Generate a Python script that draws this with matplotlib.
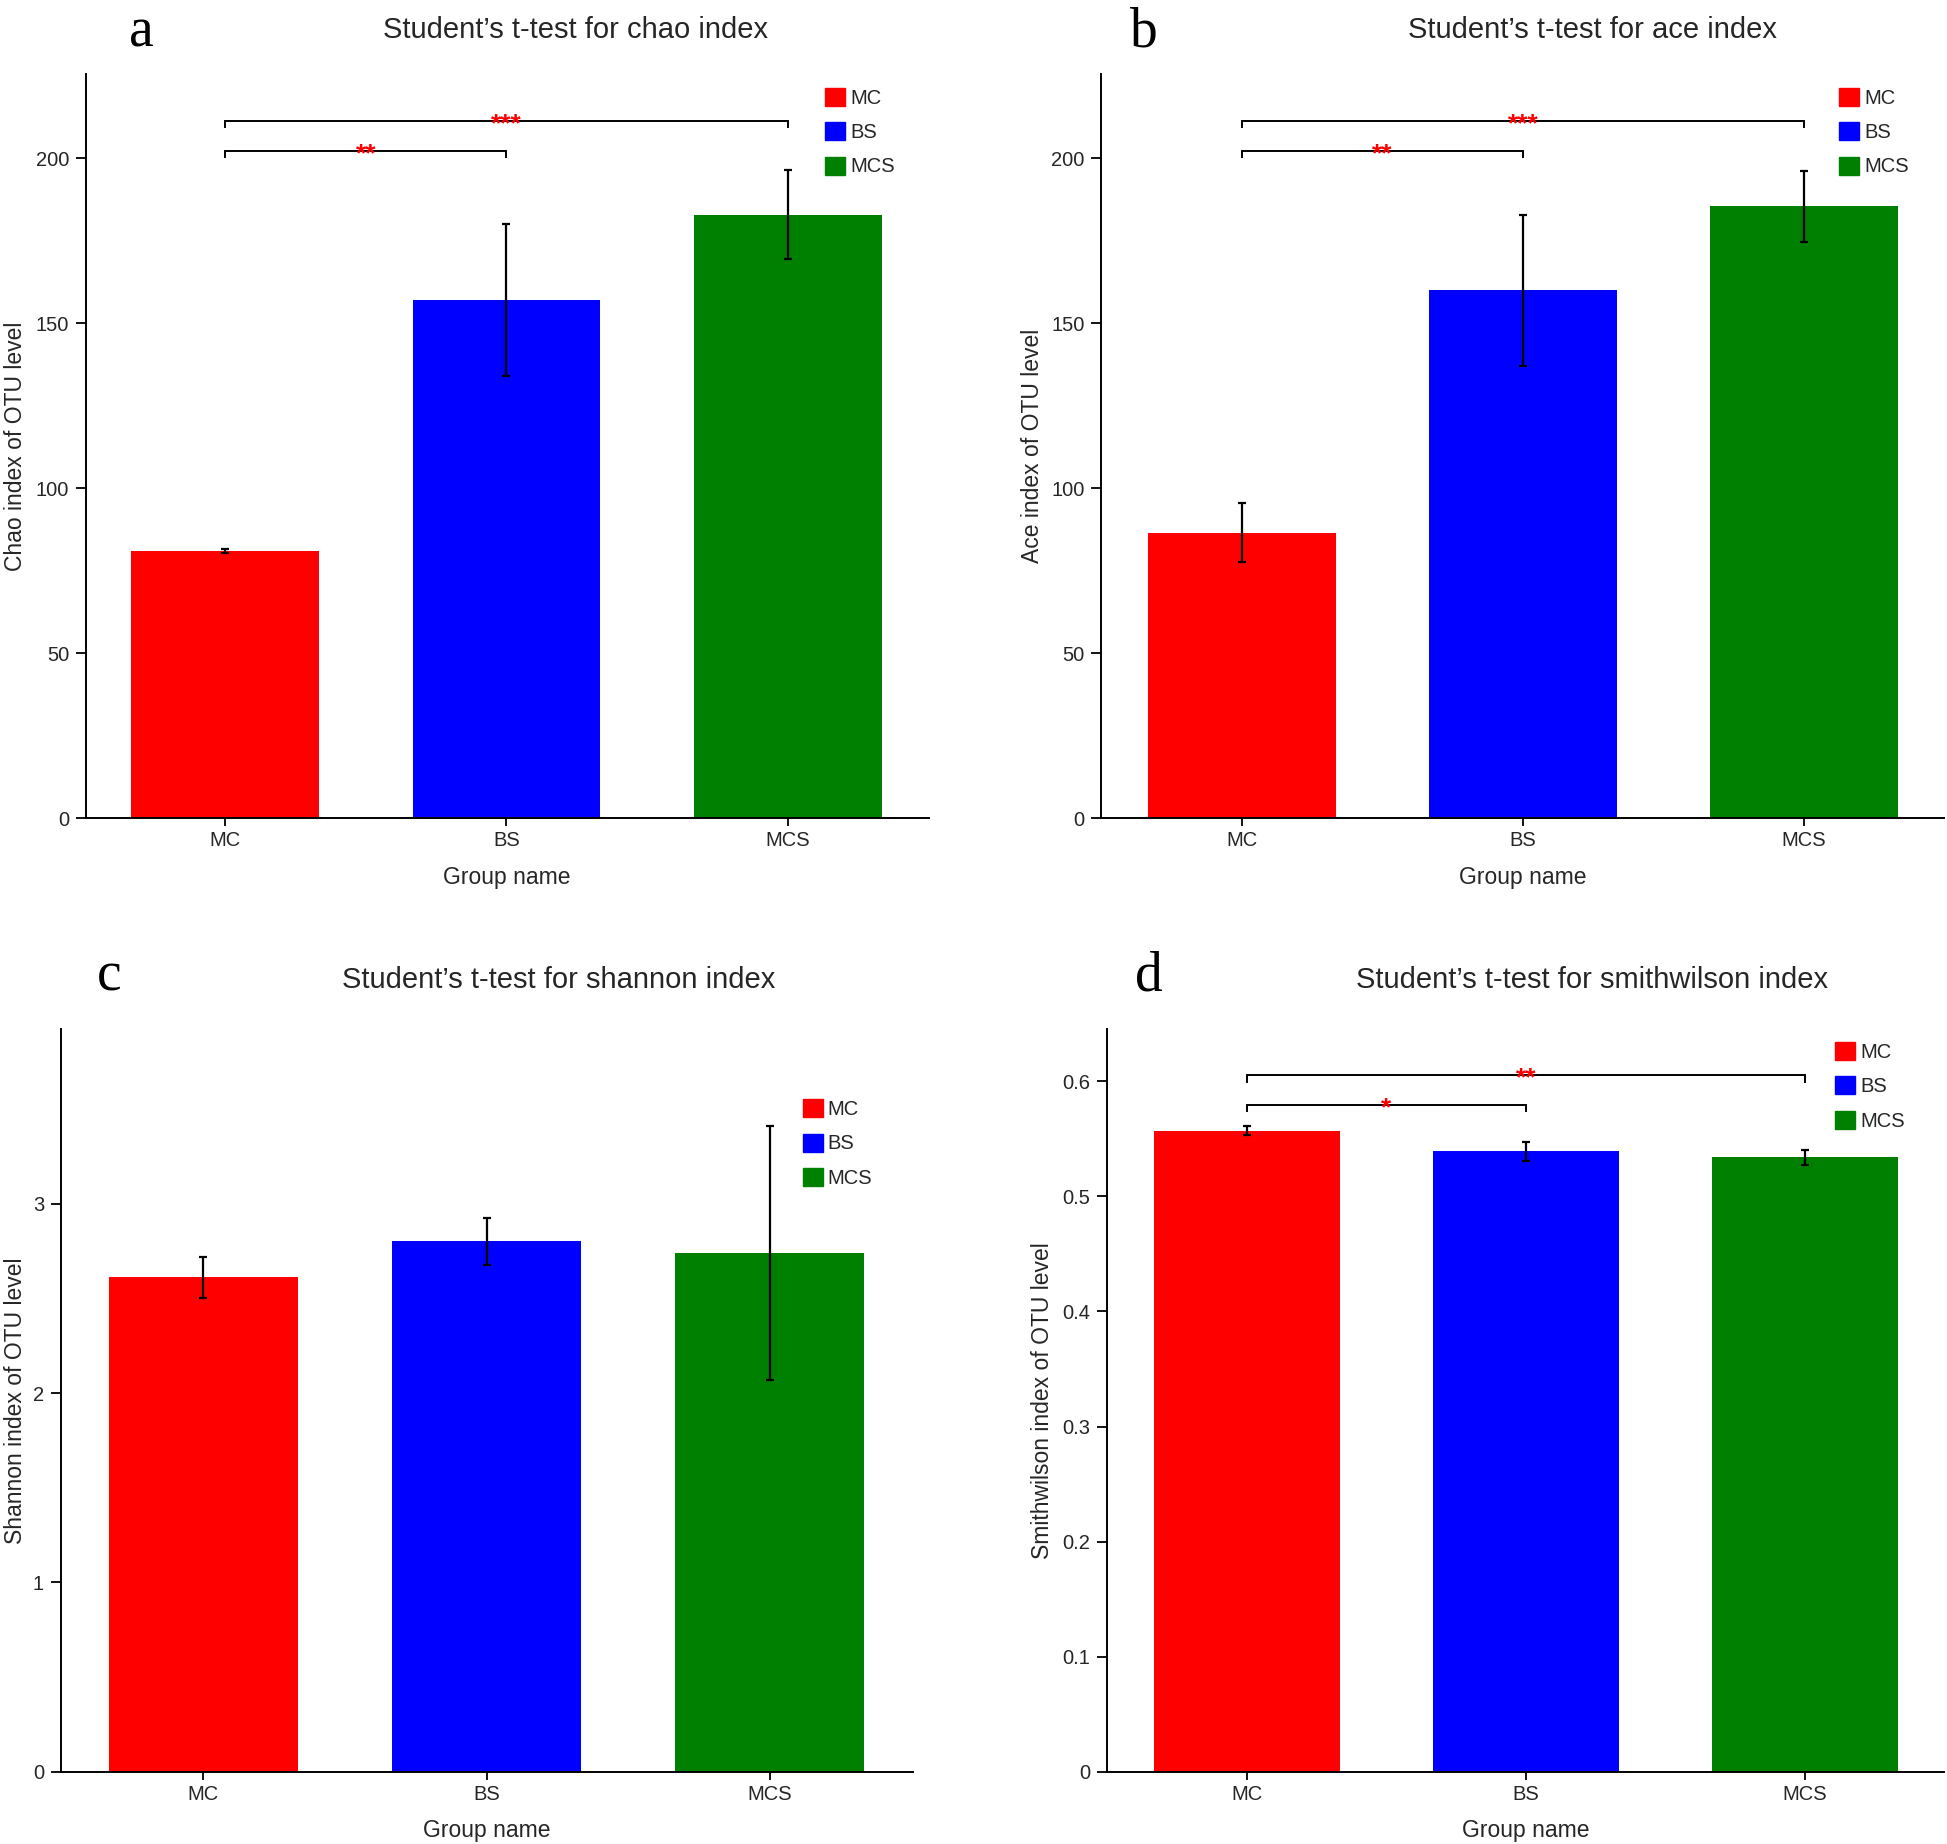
import matplotlib

matplotlib.use("Agg")
import matplotlib.pyplot as plt
from matplotlib.patches import Patch
from matplotlib.ticker import FuncFormatter

plt.rcParams["font.family"] = ["Liberation Sans", "DejaVu Sans"]

groups = ["MC", "BS", "MCS"]
colors = ["#ff0000", "#0000ff", "#008000"]

chao_mean = [81.0, 157.0, 183.0]
chao_err = [0.5, 23.0, 13.4]
ace_mean = [86.6, 160.0, 185.5]
ace_err = [9.0, 23.0, 10.7]
shannon_mean = [2.61, 2.80, 2.74]
shannon_err = [0.11, 0.125, 0.67]
smith_mean = [0.557, 0.539, 0.534]
smith_err = [0.004, 0.008, 0.0065]

# significance brackets: (from group, to group, height, stars)
chao_sig = [(0, 1, 202.3, "**"), (0, 2, 211.3, "***")]
ace_sig = [(0, 1, 202.3, "**"), (0, 2, 211.3, "***")]
shannon_sig = []
smith_sig = [(0, 1, 0.5795, "*"), (0, 2, 0.605, "**")]

panels = [
    dict(letter="a", title="Student\u2019s t-test for chao index",
         ylabel="Chao index of OTU level", mean=chao_mean, err=chao_err,
         sig=chao_sig, ylim=225.5, yticks=[0, 50, 100, 150, 200],
         rect=[0.044, 0.5563, 0.433, 0.4034], xlim=(-0.495, 2.5),
         ylab_x=-0.0696, leg=(0.877, 0.982),
         letter_xy=(0.0724, 0.9747), title_xy=(0.2958, 0.9795)),
    dict(letter="b", title="Student\u2019s t-test for ace index",
         ylabel="Ace index of OTU level", mean=ace_mean, err=ace_err,
         sig=ace_sig, ylim=225.5, yticks=[0, 50, 100, 150, 200],
         rect=[0.5657, 0.5563, 0.433, 0.4034], xlim=(-0.5, 2.5),
         ylab_x=-0.068, leg=(0.875, 0.982),
         letter_xy=(0.5874, 0.9747), title_xy=(0.8177, 0.9795)),
    dict(letter="c", title="Student\u2019s t-test for shannon index",
         ylabel="Shannon index of OTU level", mean=shannon_mean, err=shannon_err,
         sig=shannon_sig, ylim=3.92, yticks=[0, 1, 2, 3],
         rect=[0.0312, 0.0391, 0.4375, 0.4027], xlim=(-0.504, 2.504),
         ylab_x=-0.0397, leg=(0.871, 0.906),
         letter_xy=(0.0561, 0.4631), title_xy=(0.2871, 0.4642)),
    dict(letter="d", title="Student\u2019s t-test for smithwilson index",
         ylabel="Smithwilson index of OTU level", mean=smith_mean, err=smith_err,
         sig=smith_sig, ylim=0.645, yticks=[0, 0.1, 0.2, 0.3, 0.4, 0.5, 0.6],
         rect=[0.5686, 0.0391, 0.4301, 0.4027], xlim=(-0.5, 2.5),
         ylab_x=-0.063, leg=(0.869, 0.983),
         letter_xy=(0.5899, 0.4631), title_xy=(0.8177, 0.4642)),
]

TEXT = "#262626"

fig = plt.figure(figsize=(19.47, 18.44), dpi=100)

for p in panels:
    ax = fig.add_axes(p["rect"])
    x = list(range(len(groups)))
    ax.bar(x, p["mean"], width=0.667, color=colors, linewidth=0, zorder=2)
    ax.errorbar(x, p["mean"], yerr=p["err"], fmt="none", ecolor="black",
                elinewidth=1.6, capsize=3, capthick=1.6, zorder=3)

    top = p["ylim"]
    tick = 0.0085 * top
    for i, j, h, stars in p["sig"]:
        ax.plot([i, i, j, j], [h - tick, h, h, h - tick], color="black",
                lw=1.4, solid_joinstyle="miter", zorder=3)
        ax.annotate(stars, xy=((i + j) / 2, h), xytext=(0, -7.5),
                    textcoords="offset points", ha="center", va="baseline",
                    color="#ff0000", fontsize=19, fontweight="bold", zorder=4)

    ax.set_xlim(*p["xlim"])
    ax.set_ylim(0, top)
    ax.set_xticks(x)
    ax.set_xticklabels(groups)
    ax.set_yticks(p["yticks"])
    ax.yaxis.set_major_formatter(FuncFormatter(lambda v, _: f"{v:g}"))

    for s in ("top", "right"):
        ax.spines[s].set_visible(False)
    for s in ("left", "bottom"):
        ax.spines[s].set_linewidth(1.4)
        ax.spines[s].set_color("black")
    ax.tick_params(axis="both", width=1.3, colors="black",
                   labelcolor=TEXT, labelsize=14.5)
    ax.tick_params(axis="x", length=6, pad=3.5)
    ax.tick_params(axis="y", length=7.5, pad=4.5)

    ax.set_xlabel("Group name", fontsize=16.5, color=TEXT)
    ax.xaxis.set_label_coords(0.5, -0.064)
    ax.set_ylabel(p["ylabel"], fontsize=16.5, color=TEXT)
    ax.yaxis.set_label_coords(p["ylab_x"], 0.5)

    handles = [Patch(facecolor=c, edgecolor=c, label=g)
               for g, c in zip(groups, colors)]
    ax.legend(handles=handles, loc="upper left", bbox_to_anchor=p["leg"],
              frameon=False, fontsize=14.5, handlelength=1.0, handleheight=1.0,
              handletextpad=0.25, labelspacing=0.72, borderpad=0,
              borderaxespad=0, labelcolor=TEXT)

    fig.text(*p["letter_xy"], p["letter"], ha="center", va="baseline",
             fontsize=40, family=["Liberation Serif", "DejaVu Serif"],
             color="black")
    fig.text(*p["title_xy"], p["title"], ha="center", va="baseline",
             fontsize=21, color=TEXT)

fig.savefig("out.png", dpi=100)
